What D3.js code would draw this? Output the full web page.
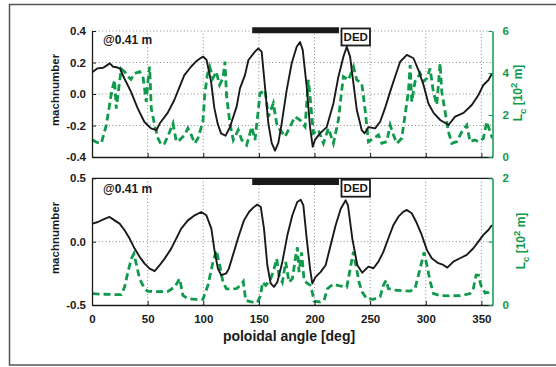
<!DOCTYPE html>
<html>
<head>
<meta charset="utf-8">
<script src="https://cdn.jsdelivr.net/npm/d3@7"></script>
<style>
  html, body { margin: 0; padding: 0; background: #fff; }
  svg { display: block; font-family: "Liberation Sans", Arial, sans-serif; }
</style>
</head>
<body>
<svg id="chart" width="556" height="367"></svg>
<script>
// ---- data: upper panel (@0.41 m, fluctuating L_c) ----
const topMachAngle = [0.5,5,10,13,16,19,22,25,29,35,41,47,53,58,61,68,74,79,83,89,94,98,100,103,107,110,113,116,120,124,130,133,137.5,140.6,146.5,149.5,152.5,155.5,158.5,161.5,164.5,167.5,170.5,175,179.5,184,187,189.4,193,196,198.4,200.5,205,211,217,221.5,226,229,232,235,238,242.5,245,248.5,254.5,259,263.4,268,272.4,277,283,289,293.4,298,302.4,307,313,320.4,326.4,334,341.4,347.4,351.8,356.4,359.5];
const topMach = [0.14,0.163,0.167,0.18,0.195,0.173,0.17,0.163,0.10,0.015,-0.09,-0.176,-0.218,-0.229,-0.186,-0.12,-0.038,0.05,0.12,0.173,0.21,0.23,0.237,0.216,0.08,-0.09,-0.19,-0.25,-0.265,-0.21,-0.08,0.036,0.12,0.216,0.269,0.29,0.269,0.046,-0.186,-0.31,-0.36,-0.31,-0.186,0.025,0.195,0.30,0.33,0.28,0.046,-0.21,-0.335,-0.29,-0.25,-0.21,-0.06,0.11,0.237,0.30,0.237,0.068,-0.10,-0.23,-0.25,-0.21,-0.218,-0.176,-0.09,0.015,0.11,0.205,0.248,0.227,0.152,0.057,-0.06,-0.12,-0.165,-0.197,-0.144,-0.12,-0.07,-0.006,0.057,0.089,0.13];

const topLcAngle = [0.5,4,8.4,12.8,15.8,18,20.3,21.8,24.8,26.3,29.3,32.3,35,38.3,42.8,45.8,48.8,50.3,51.8,53.3,56.3,59.3,62.3,65.3,69.8,72.8,75.8,78.8,83.3,86.2,89.2,92.3,95.2,99.7,101.3,103.6,105.8,108.7,111.7,114.7,117.7,119.5,121,124,127,131.5,134.6,139,143.6,146.5,149.5,151,155.5,158.5,163,166,169,173.5,178,182.5,187,191.5,194.5,196,199,203.5,208,212.5,217,221.5,224.5,226,230.5,235,238,242.5,245.5,248.5,253,257.5,260.5,265,268,271,274,278.4,281.4,284.4,286,287.4,290.4,295,298,301,303.9,306.8,309.9,312.9,314.4,317.4,320.4,323.4,327.9,332.4,336.9,339.8,344.3,347.4,351.8,354.8,357.8,359.9];
const topLc = [0.81,0.7,0.65,1.52,2.48,3.2,3.67,2.3,3.6,4.2,4.06,3.83,3.7,3.98,4.06,3.83,2.63,3.6,4.3,2.3,1.52,0.89,0.57,0.65,1.2,1.6,0.73,0.81,1.05,1.37,1.05,0.65,0.89,1.68,2.95,3.9,4.3,3.75,4.06,3.43,3.75,4.54,2.87,1.6,0.81,1.29,0.81,0.57,1.44,0.81,2.24,3.03,3.19,1.92,2.56,1.6,1.29,0.97,1.44,1.92,1.76,1.44,3.67,2.87,1.13,1.29,0.65,1.37,0.65,1.76,3.19,3.83,3.67,4.3,3.67,3.51,2.24,0.73,0.89,1.05,0.65,0.73,1.52,1.05,0.65,0.89,2.0,3.11,4.38,2.63,3.6,3.98,3.6,3.75,4.22,3.11,2.48,4.46,3.11,2.16,1.2,0.65,0.73,1.2,1.52,0.73,0.81,0.73,0.89,1.68,1.2,0.89];

// ---- data: lower panel (@0.41 m, smooth L_c) ----
const botMachAngle = [0.5,5.3,11.3,15.8,20.3,24.8,29.3,33.8,38.3,42.8,47.3,51.8,56.3,60.8,65.3,71.2,75.7,80.2,86.2,92.3,98.2,102.8,107.3,110.3,113.2,116.2,120.7,123,127.6,132.1,136.6,141.1,145.6,148.6,151.7,154.6,157.6,160.6,163.6,166.6,171.1,175.6,180.1,184.5,187.6,190,193,196,198,201,205.6,210,214.5,219,223.6,228,230.1,234,238.5,243,248.5,253,257.5,262,266.4,271,275.4,280,283,287.4,292,296.4,301,305.4,311.3,315.8,319.4,324.8,330.8,336.9,342.8,347.3,351.8,356.3,359.5];
const botMach = [0.142,0.155,0.18,0.195,0.168,0.142,0.09,0.024,-0.055,-0.12,-0.173,-0.213,-0.233,-0.186,-0.134,-0.055,0.024,0.103,0.168,0.208,0.234,0.208,0.103,-0.08,-0.213,-0.265,-0.25,-0.213,-0.08,0.05,0.168,0.234,0.274,0.292,0.274,0.103,-0.186,-0.33,-0.357,-0.318,-0.16,0.05,0.208,0.313,0.331,0.287,0.024,-0.213,-0.33,-0.278,-0.239,-0.186,-0.028,0.129,0.26,0.326,0.287,0.024,-0.186,-0.245,-0.197,-0.21,-0.158,-0.079,0.027,0.132,0.197,0.237,0.25,0.224,0.145,0.053,-0.065,-0.131,-0.17,-0.184,-0.205,-0.158,-0.131,-0.105,-0.052,0,0.053,0.092,0.132];

const botLcAngle = [0.5,10,20,26.3,29.3,32.3,35.3,37.7,39.8,42.8,47.3,50.3,60,68.3,74.3,78.8,81.7,86.2,93,99.7,104.2,108.8,111.8,114.8,117.7,120.7,125,130,134,136,138.2,143,148.6,151.7,153.2,156.2,160.7,163.6,166,168.1,171.1,174.1,177.1,180.1,183.2,184.6,186.1,188.4,190.6,193,196,198,199.6,205,208.6,211.6,217,223,229,232.6,235,237.5,240,243,247,253,259,262,264.3,266.4,271,280,286,290.4,293.4,296.4,298.5,301,304,306.9,312.9,322,330.8,339.8,342.8,345.2,347.4,349.5,353.4,356.5,359.4];
const botLc = [0.178,0.17,0.165,0.163,0.284,0.52,0.73,0.81,0.65,0.415,0.257,0.216,0.21,0.216,0.284,0.415,0.153,0.1,0.09,0.09,0.31,0.68,0.86,0.63,0.36,0.257,0.25,0.26,0.32,0.37,0.074,0.05,0.04,0.153,0.36,0.31,0.415,0.57,0.73,0.47,0.36,0.68,0.36,0.415,0.78,0.91,0.52,0.83,0.40,0.35,0.315,0.2,0.06,0.05,0.074,0.257,0.33,0.3,0.28,0.62,0.84,0.6,0.36,0.2,0.1,0.09,0.13,0.315,0.39,0.26,0.237,0.225,0.22,0.26,0.47,0.68,0.83,0.63,0.37,0.18,0.147,0.145,0.147,0.18,0.26,0.47,0.47,0.315,0.19,0.2,0.237];

// ---- axis ticks ----
const angleTicks = [0, 50, 100, 150, 200, 250, 300, 350];
const topMachTicks = [-0.4, -0.2, 0, 0.2, 0.4];
const topLcTicks = [0, 2, 4, 6];
const botMachTicks = [-0.5, 0, 0.5];
const botLcTicks = [0, 1, 2];
const botLcLabelled = [0, 2];

// ---- annotations ----
const dedStart = 144, dedEnd = 222;   // heating window [deg]
const probeLabel = "@0.41 m";

const GREEN = "#0f9a4c";
const INK = "#1a1a1a";

const svg = d3.select("#chart");

// outer frame
svg.append("rect")
  .attr("x", 9.5).attr("y", 4.5).attr("width", 560).attr("height", 360.5)
  .attr("fill", "none").attr("stroke", "#555").attr("stroke-width", 1.5);

const x = d3.scaleLinear().domain([0, 360]).range([92, 492.5]);

function panel(cfg) {
  const { yL, yR, machAngle, mach, lcAngle, lc, leftTicks, rightTicks, rightLabelled,
          showX, solidTop, hGrid, id, barLevel, boxTop, labelY, rightLabelX, yLabelCenter } = cfg;
  const [y0, y1] = yL.range(); // bottom, top
  const g = svg.append("g");

  const clip = "clip-" + id;
  svg.append("clipPath").attr("id", clip)
    .append("rect").attr("x", x(0)).attr("y", y1).attr("width", x(360) - x(0)).attr("height", y0 - y1);

  // dotted grid
  const grid = g.append("g").attr("stroke", "#8a8a8a").attr("stroke-width", 1)
    .attr("stroke-dasharray", "1,2.4");
  grid.selectAll("line.v").data(angleTicks.filter(d => d > 0)).join("line")
    .attr("x1", d => x(d)).attr("x2", d => x(d)).attr("y1", y0).attr("y2", y1);
  grid.selectAll("line.h").data(hGrid).join("line")
    .attr("x1", x(0)).attr("x2", x(360)).attr("y1", d => yL(d)).attr("y2", d => yL(d));

  // L_c (green dashed)
  const lcLine = d3.line().x((d, i) => x(lcAngle[i])).y(d => yR(d));
  g.append("path").datum(lc).attr("d", lcLine)
    .attr("clip-path", `url(#${clip})`)
    .attr("fill", "none").attr("stroke", GREEN).attr("stroke-width", 2.8)
    .attr("stroke-dasharray", "7,4");

  // mach number (black)
  const machLine = d3.line().x((d, i) => x(machAngle[i])).y(d => yL(d));
  g.append("path").datum(mach).attr("d", machLine)
    .attr("clip-path", `url(#${clip})`)
    .attr("fill", "none").attr("stroke", INK).attr("stroke-width", 1.9)
    .attr("stroke-linejoin", "round");

  // left axis
  const left = g.append("g").attr("transform", `translate(${x(0)},0)`)
    .call(d3.axisLeft(yL).tickValues(leftTicks).tickFormat(d => d.toFixed(1))
      .tickSizeInner(-4).tickSizeOuter(0).tickPadding(6));
  left.select(".domain").attr("stroke", INK).attr("stroke-width", 1.3);
  left.selectAll(".tick line").attr("stroke", INK);
  left.selectAll("text").attr("font-size", 11.5).attr("font-weight", "bold").attr("fill", INK);

  // bottom axis
  const bottom = g.append("g").attr("transform", `translate(0,${y0})`)
    .call(d3.axisBottom(x).tickValues(angleTicks).tickFormat(showX ? d3.format("d") : () => "")
      .tickSizeInner(-4).tickSizeOuter(0).tickPadding(10));
  bottom.select(".domain").attr("stroke", INK).attr("stroke-width", 1.3);
  bottom.selectAll(".tick line").attr("stroke", INK);
  bottom.selectAll("text").attr("font-size", 11.5).attr("font-weight", "bold").attr("fill", INK);

  if (solidTop) {
    g.append("line").attr("x1", x(0)).attr("x2", x(360)).attr("y1", y1).attr("y2", y1)
      .attr("stroke", INK).attr("stroke-width", 1.3);
  }

  // right axis (L_c)
  const right = g.append("g").attr("transform", `translate(${x(360)},0)`)
    .call(d3.axisRight(yR).tickValues(rightTicks)
      .tickFormat(d => rightLabelled.includes(d) ? String(d) : "")
      .tickSizeInner(-4).tickSizeOuter(0).tickPadding(10));
  right.select(".domain").attr("stroke", GREEN).attr("stroke-width", 1.5);
  right.selectAll(".tick line").attr("stroke", GREEN);
  right.selectAll("text").attr("font-size", 11.5).attr("font-weight", "bold").attr("fill", GREEN);

  // axis titles
  g.append("text").attr("transform", `translate(59,${yLabelCenter}) rotate(-90)`)
    .attr("text-anchor", "middle").attr("font-size", 11.5).attr("font-weight", "bold")
    .attr("fill", INK).text("machnumber");

  const rt = g.append("text").attr("transform", `translate(${rightLabelX},${yLabelCenter + 3}) rotate(-90)`)
    .attr("text-anchor", "middle").attr("font-size", 12).attr("font-weight", "bold").attr("fill", GREEN);
  rt.append("tspan").text("L");
  rt.append("tspan").attr("font-size", 9.5).attr("dy", 3.5).text("c");
  rt.append("tspan").attr("dy", -3.5).text(" [10");
  rt.append("tspan").attr("font-size", 9.5).attr("dy", -5).text("2");
  rt.append("tspan").attr("dy", 5).text(" m]");

  // probe position label
  g.append("text").attr("x", 103).attr("y", labelY).attr("font-size", 12).attr("font-weight", "bold")
    .attr("fill", INK).text(probeLabel);

  // heating window bar and DED tag
  g.append("line").attr("x1", x(dedStart)).attr("x2", x(dedEnd))
    .attr("y1", yL(barLevel)).attr("y2", yL(barLevel))
    .attr("stroke", INK).attr("stroke-width", 6);
  const bx = x(dedEnd) + 2.5, by = yL(boxTop);
  g.append("rect").attr("x", bx).attr("y", by).attr("width", 28.5).attr("height", 17)
    .attr("fill", "#fff").attr("stroke", INK).attr("stroke-width", 1.8);
  g.append("text").attr("x", bx + 14.25).attr("y", by + 12.8).attr("text-anchor", "middle")
    .attr("font-size", 11.5).attr("font-weight", "bold").attr("fill", INK).text("DED");
}

panel({
  id: "top",
  yL: d3.scaleLinear().domain([-0.4, 0.4]).range([157, 31]),
  yR: d3.scaleLinear().domain([0, 6]).range([157, 31]),
  machAngle: topMachAngle, mach: topMach, lcAngle: topLcAngle, lc: topLc,
  leftTicks: topMachTicks, rightTicks: topLcTicks, rightLabelled: topLcTicks,
  showX: false, solidTop: false, hGrid: [-0.2, 0, 0.2, 0.4],
  barLevel: 0.405, boxTop: 0.416, labelY: 44, rightLabelX: 522, yLabelCenter: 90
});

panel({
  id: "bot",
  yL: d3.scaleLinear().domain([-0.5, 0.5]).range([305, 178.3]),
  yR: d3.scaleLinear().domain([0, 2]).range([305, 178.3]),
  machAngle: botMachAngle, mach: botMach, lcAngle: botLcAngle, lc: botLc,
  leftTicks: botMachTicks, rightTicks: botLcTicks, rightLabelled: botLcLabelled,
  showX: true, solidTop: true, hGrid: [0],
  barLevel: 0.47, boxTop: 0.489, labelY: 193, rightLabelX: 525, yLabelCenter: 238
});

// x-axis title
svg.append("text").attr("x", 289).attr("y", 341).attr("text-anchor", "middle")
  .attr("font-size", 14).attr("font-weight", "bold").attr("fill", INK)
  .text("poloidal angle [deg]");
</script>
</body>
</html>
